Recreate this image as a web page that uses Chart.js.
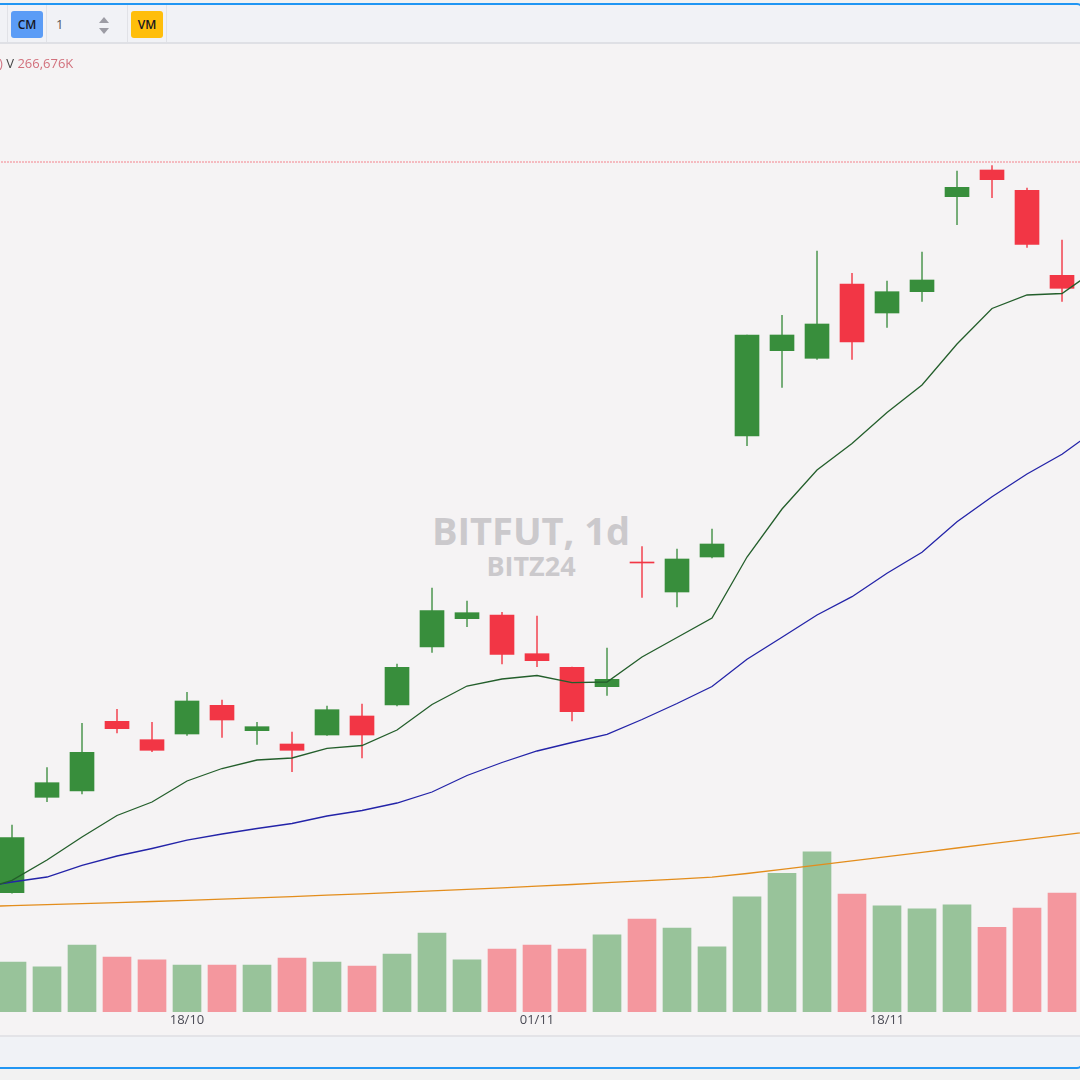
<!DOCTYPE html>
<html>
<head>
<meta charset="utf-8">
<title>BITFUT, 1d</title>
<script src="https://cdn.jsdelivr.net/npm/chart.js@4.4.1/dist/chart.umd.min.js"></script>
<style>
  html, body { margin: 0; padding: 0; }
  body { width: 1080px; height: 1080px; background: #f2f2f2; position: relative; overflow: hidden; font-family: "Open Sans", sans-serif; }
  .frame { position: absolute; left: -20px; top: 3px; width: 1099px; height: 1062px; border: 2px solid #2196f3; border-radius: 6px; }
  .toolbar { position: absolute; left: 0; top: 5px; width: 1080px; height: 37px; background: #f1f2f6; border-bottom: 2px solid #dfe0e5; }
  .sep { position: absolute; top: 0; width: 1px; height: 37px; background: #e1e2e7; }
  .btn { position: absolute; top: 6px; width: 32px; height: 27px; border-radius: 3px; font-size: 12px; font-weight: 600; line-height: 27px; text-align: center; color: #161622; }
  .num { position: absolute; left: 56px; top: 10px; font-size: 13px; color: #555; line-height: 18px; }
  .up, .down { position: absolute; left: 99px; width: 0; height: 0; border-left: 5px solid transparent; border-right: 5px solid transparent; }
  .up { top: 12px; border-bottom: 6px solid #9c9ca4; }
  .down { top: 23px; border-top: 6px solid #9c9ca4; }
  .pane { position: absolute; left: 0; top: 44px; width: 1080px; height: 991px; background: #f5f3f4; }
  .wm { position: absolute; left: 331px; width: 400px; text-align: center; font-weight: 700; color: #cbc9cc; }
  .legend { position: absolute; left: -1px; top: 10px; font-size: 13px; line-height: 18px; white-space: nowrap; z-index: 2; }
  canvas { position: absolute; left: 0; top: 0; z-index: 1; }
  .sepline { position: absolute; left: 0; top: 1035px; width: 1080px; height: 2px; background: #e3e3e7; }
  .bottom { position: absolute; left: 0; top: 1037px; width: 1080px; height: 30px; background: #f0f2f6; }
</style>
</head>
<body>
<div class="toolbar">
  <div class="sep" style="left:7px"></div>
  <div class="btn" style="left:11px;background:#5b9cf6">CM</div>
  <div class="sep" style="left:46px"></div>
  <div class="num">1</div>
  <div class="up"></div>
  <div class="down"></div>
  <div class="sep" style="left:127px"></div>
  <div class="btn" style="left:131px;background:#ffbe0b">VM</div>
  <div class="sep" style="left:166px"></div>
</div>
<div class="pane">
  <div class="wm" style="top:467px;font-size:38px;line-height:38px">BITFUT, 1d</div>
  <div class="wm" style="top:508px;font-size:27px;line-height:27px">BITZ24</div>
  <div class="legend"><span style="color:#cf7482">)</span> <span style="color:#444">V</span> <span style="color:#d2707c">266,676K</span></div>
  <canvas id="chart" width="1080" height="991"></canvas>
</div>
<div class="sepline"></div>
<div class="bottom"></div>
<div class="frame"></div>
<script>
// trading days shown (B3 calendar, holidays skipped)
const dates = ["11/10", "14/10", "15/10", "16/10", "17/10", "18/10", "21/10", "22/10", "23/10", "24/10", "25/10",
  "28/10", "29/10", "30/10", "31/10", "01/11", "04/11", "05/11", "06/11", "07/11", "08/11",
  "11/11", "12/11", "13/11", "14/11", "18/11", "19/11", "21/11", "22/11", "25/11", "26/11"];
const tickLabels = ["18/10", "01/11", "18/11"];

const open = [354340, 384860, 386880, 409180, 403300, 405120, 414300, 406180, 401920, 404800, 410880,
  414400, 432960, 442020, 443200, 430820, 426460, 420260, 460160, 450560, 461760,
  500480, 527780, 525340, 549120, 539840, 546660, 577060, 585600, 579100, 551900];
const high = [376000, 394340, 408540, 413020, 408860, 418460, 416000, 408860, 405760, 414080, 414720,
  427520, 451840, 447680, 444060, 442880, 426560, 432640, 465060, 464320, 470720,
  532800, 539100, 559680, 552540, 550080, 559360, 585280, 586980, 579840, 563200];
const low = [354200, 383460, 385920, 405440, 399460, 404700, 404060, 401820, 393060, 404640, 397440,
  414080, 431260, 439460, 427520, 426660, 409280, 417500, 448860, 445760, 461440,
  497380, 516060, 525020, 525020, 535260, 543580, 568100, 576740, 560860, 543580];
const close = [371940, 389540, 399260, 406820, 399900, 415680, 409600, 407460, 399900, 412900, 404800,
  426460, 444580, 443940, 430620, 428580, 412260, 422620, 459840, 461120, 465920,
  532800, 532800, 536320, 530560, 546660, 550400, 580060, 582500, 561820, 547740];
const volume = [112000, 101000, 150000, 123000, 117000, 105000, 105000, 105000, 121000, 112000, 103000,
  130000, 177000, 117000, 141000, 150000, 141000, 173000, 208000, 188000, 146000,
  258000, 311000, 359000, 264000, 238000, 231000, 240000, 190000, 233000, 266676];

// moving averages, first value belongs to the bar before 11/10, last one to the bar after 26/11
const maStart = -1;
const maFast = [354880, 358300, 364800, 372160, 379040, 383360, 390080, 394080, 396800, 397440, 400540,
  401440, 406400, 414560, 420480, 422720, 423840, 421540, 421760, 429760, 436000, 442240,
  461760, 477120, 489600, 498080, 508000, 516800, 529920, 541280, 545600, 546080, 553920];
const maMid = [355840, 357760, 359360, 363100, 366080, 368480, 371140, 373120, 374880, 376480, 378880,
  380640, 383040, 386560, 391840, 396000, 399680, 402400, 405020, 409760, 414880, 420320,
  429020, 436060, 443200, 449060, 456540, 463260, 473060, 481060, 488320, 494620, 502720];
const maSlow = [349890, 350180, 350500, 350820, 351170, 351520, 351870, 352260, 352670, 353090, 353540,
  353950, 354430, 354910, 355390, 355900, 356450, 356960, 357540, 358110, 358690, 359300,
  360480, 361820, 363170, 364510, 365890, 367260, 368640, 370020, 371390, 372770, 374140];
const refLevel = 588160;

const GREEN = "#388e3c", RED = "#f23645";
const up = close.map((c, i) => c >= open[i]);

function maData(arr) {
  return arr.map((v, k) => ({ x: k + maStart, y: v }));
}

Chart.defaults.font.family = "'Open Sans', sans-serif";

new Chart(document.getElementById("chart"), {
  type: "bar",
  data: {
    datasets: [
      {
        type: "line", data: maData(maFast), borderColor: "#235e2b",
        borderWidth: 1.3, pointRadius: 0, order: 1
      },
      {
        type: "line", data: maData(maMid), borderColor: "#2323a8",
        borderWidth: 1.3, pointRadius: 0, order: 2
      },
      {
        type: "line", data: maData(maSlow), borderColor: "#e38d1c",
        borderWidth: 1.3, pointRadius: 0, order: 3
      },
      {
        type: "line", data: [{ x: maStart, y: refLevel }, { x: dates.length, y: refLevel }],
        borderColor: "rgba(242, 54, 69, 0.4)", borderWidth: 1.5, borderDash: [2, 1],
        pointRadius: 0, order: 3
      },
      {
        data: dates.map((d, i) => ({ x: i, y: [open[i], close[i]] })),
        backgroundColor: up.map(u => (u ? GREEN : RED)),
        barThickness: 24, minBarLength: 1, grouped: false, order: 4
      },
      {
        data: dates.map((d, i) => ({ x: i, y: [low[i], high[i]] })),
        backgroundColor: up.map(u => (u ? "#5c9f5f" : "#f2535f")),
        barThickness: 1, grouped: false, order: 5
      },
      {
        data: dates.map((d, i) => ({ x: i, y: volume[i] })),
        yAxisID: "yv",
        backgroundColor: up.map(u => (u ? "#98c39a" : "#f4979e")),
        barThickness: 28, grouped: false, order: 6
      }
    ]
  },
  options: {
    responsive: false,
    devicePixelRatio: 1,
    animation: false,
    layout: { padding: 0 },
    plugins: { legend: { display: false }, tooltip: { enabled: false } },
    scales: {
      x: {
        type: "linear",
        min: -0.343,
        max: 30.514,
        offset: false,
        grid: { display: false, drawTicks: false },
        border: { display: false },
        afterBuildTicks: (axis) => {
          axis.ticks = tickLabels.map(t => ({ value: dates.indexOf(t) }));
        },
        afterFit: (axis) => {
          axis.height = 23;
        },
        ticks: {
          autoSkip: false,
          maxRotation: 0,
          padding: 0,
          color: "#4a4a55",
          font: { size: 13 },
          callback: (v) => dates[v]
        }
      },
      y: { display: false, min: 316160, max: 625920 },
      yv: { display: false, min: 0, max: 2169300 }
    }
  }
});
</script>
</body>
</html>
